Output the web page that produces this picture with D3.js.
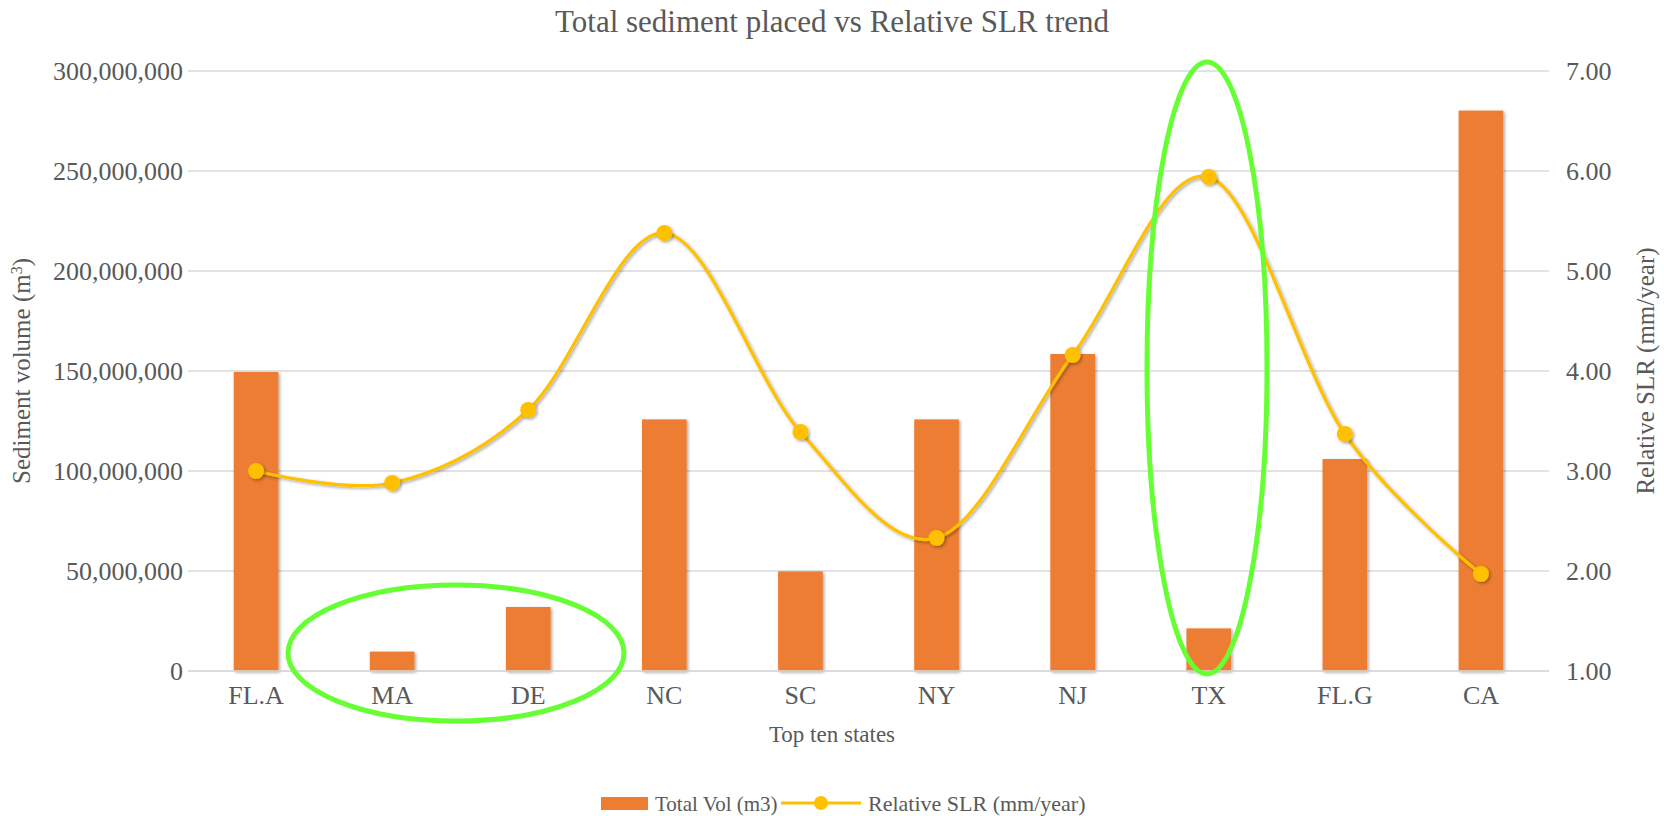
<!DOCTYPE html>
<html>
<head>
<meta charset="utf-8">
<script src="https://cdn.jsdelivr.net/npm/d3@7"></script>
<style>
  body { margin: 0; background: #fff; }
  svg text { font-family: "Liberation Serif", "Times New Roman", serif; fill: #595959; }
</style>
</head>
<body>
<div id="chart"></div>
<script>
// Chart data
const states = ['FL.A', 'MA', 'DE', 'NC', 'SC', 'NY', 'NJ', 'TX', 'FL.G', 'CA']
const totalVol = [149500000, 9700000, 32000000, 125800000, 49800000, 125800000, 158500000, 21300000, 106000000, 280200000]
const relSLR = [3.00, 2.88, 3.61, 5.38, 3.39, 2.33, 4.16, 5.94, 3.37, 1.97]
const leftTicks = [0, 50000000, 100000000, 150000000, 200000000, 250000000, 300000000]
const rightTicks = [1, 2, 3, 4, 5, 6, 7]

// Our canvas
const width = 1664,
  height = 816,
  plotLeft = 188,
  plotRight = 1549,
  plotTop = 71,
  plotBottom = 671

const svg = d3.select('#chart')
  .append('svg')
  .attr('width', width)
  .attr('height', height)

// shadows like the Excel default
const defs = svg.append('defs')
defs.append('filter').attr('id', 'shadow')
  .attr('x', '-20%').attr('y', '-20%').attr('width', '140%').attr('height', '140%')
  .append('feDropShadow')
  .attr('dx', 1.5).attr('dy', 1.5).attr('stdDeviation', 1.6)
  .attr('flood-color', '#000').attr('flood-opacity', 0.35)

const xScale = d3.scaleBand()
  .domain(states)
  .range([plotLeft, plotRight])
  .paddingInner(0.672)
  .paddingOuter(0.336)

const yLeft = d3.scaleLinear()
  .domain([0, 300000000])
  .range([plotBottom, plotTop])

const yRight = d3.scaleLinear()
  .domain([1, 7])
  .range([plotBottom, plotTop])

// gridlines
svg.append('g')
  .selectAll('line')
  .data(leftTicks)
  .enter()
  .append('line')
  .attr('x1', plotLeft)
  .attr('x2', plotRight)
  .attr('y1', d => yLeft(d))
  .attr('y2', d => yLeft(d))
  .attr('stroke', '#d9d9d9')
  .attr('stroke-width', 1.5)

// left axis
const fmt = d3.format(',')
const leftAxis = svg.append('g')
  .attr('transform', `translate(${plotLeft - 5},0)`)
  .call(d3.axisLeft(yLeft).tickValues(leftTicks).tickFormat(fmt).tickSize(0).tickPadding(0))
leftAxis.select('.domain').remove()
leftAxis.selectAll('text').attr('font-size', 26).style('font-family', null)

// right axis
const rightAxis = svg.append('g')
  .attr('transform', `translate(${plotRight + 17},0)`)
  .call(d3.axisRight(yRight).tickValues(rightTicks).tickFormat(d3.format('.2f')).tickSize(0).tickPadding(0))
rightAxis.select('.domain').remove()
rightAxis.selectAll('text').attr('font-size', 26).style('font-family', null)

// bars
svg.append('g')
  .selectAll('rect')
  .data(totalVol)
  .enter()
  .append('rect')
  .attr('x', (d, i) => xScale(states[i]))
  .attr('y', d => yLeft(d))
  .attr('width', xScale.bandwidth())
  .attr('height', d => plotBottom - yLeft(d))
  .attr('fill', '#ed7d31')
  .attr('filter', 'url(#shadow)')

// x axis line + labels
svg.append('line')
  .attr('x1', plotLeft).attr('x2', plotRight)
  .attr('y1', plotBottom).attr('y2', plotBottom)
  .attr('stroke', '#d9d9d9').attr('stroke-width', 1.5)

const bottomAxis = svg.append('g')
  .attr('transform', `translate(0,${plotBottom + 15})`)
  .call(d3.axisBottom(xScale).tickSize(0).tickPadding(0))
bottomAxis.select('.domain').remove()
bottomAxis.selectAll('text').attr('font-size', 26).attr('dy', '0.71em').style('font-family', null)

// SLR line
const cx = (d, i) => xScale(states[i]) + xScale.bandwidth() / 2
const line = d3.line()
  .x(cx)
  .y(d => yRight(d))
  .curve(d3.curveCardinal.tension(0))

svg.append('path')
  .datum(relSLR)
  .attr('d', line)
  .attr('fill', 'none')
  .attr('stroke', '#ffc000')
  .attr('stroke-width', 3.2)
  .attr('filter', 'url(#shadow)')

svg.append('g')
  .selectAll('circle')
  .data(relSLR)
  .enter()
  .append('circle')
  .attr('cx', cx)
  .attr('cy', d => yRight(d))
  .attr('r', 8)
  .attr('fill', '#ffc000')
  .attr('filter', 'url(#shadow)')

// green annotation ellipses
svg.append('ellipse')
  .attr('cx', 456).attr('cy', 653).attr('rx', 168).attr('ry', 68)
  .attr('fill', 'none').attr('stroke', '#66ff33').attr('stroke-width', 5)
svg.append('ellipse')
  .attr('cx', 1207).attr('cy', 368).attr('rx', 60).attr('ry', 306)
  .attr('fill', 'none').attr('stroke', '#66ff33').attr('stroke-width', 5)

// titles
svg.append('text')
  .attr('x', 832).attr('y', 32)
  .attr('text-anchor', 'middle')
  .attr('font-size', 31)
  .text('Total sediment placed vs Relative SLR trend')

svg.append('text')
  .attr('x', 832).attr('y', 742)
  .attr('text-anchor', 'middle')
  .attr('font-size', 23)
  .text('Top ten states')

const yTitle = svg.append('text')
  .attr('transform', `translate(30,${(plotTop + plotBottom) / 2}) rotate(-90)`)
  .attr('text-anchor', 'middle')
  .attr('font-size', 25)
yTitle.append('tspan').text('Sediment volume (m')
yTitle.append('tspan').attr('baseline-shift', 'super').attr('font-size', 16).text('3')
yTitle.append('tspan').text(')')

svg.append('text')
  .attr('transform', `translate(1654,${(plotTop + plotBottom) / 2}) rotate(-90)`)
  .attr('text-anchor', 'middle')
  .attr('font-size', 25)
  .text('Relative SLR (mm/year)')

// legend
const legend = svg.append('g')
legend.append('rect')
  .attr('x', 601).attr('y', 797).attr('width', 47).attr('height', 13)
  .attr('fill', '#ed7d31')
legend.append('text')
  .attr('x', 655).attr('y', 811).attr('font-size', 21)
  .text('Total Vol (m3)')
legend.append('line')
  .attr('x1', 781).attr('x2', 861).attr('y1', 803).attr('y2', 803)
  .attr('stroke', '#ffc000').attr('stroke-width', 3.2)
legend.append('circle')
  .attr('cx', 821).attr('cy', 803).attr('r', 7)
  .attr('fill', '#ffc000')
legend.append('text')
  .attr('x', 868).attr('y', 811).attr('font-size', 22)
  .text('Relative SLR (mm/year)')
</script>
</body>
</html>
